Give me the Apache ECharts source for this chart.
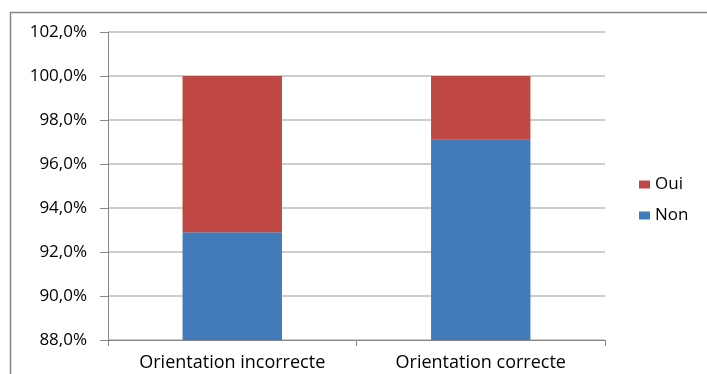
<!DOCTYPE html>
<html><head><meta charset="utf-8">
<script src="https://cdn.jsdelivr.net/npm/echarts@6/dist/echarts.min.js"></script>
<style>html,body{margin:0;padding:0;background:#fff}#c{width:707px;height:374px}</style>
</head><body><div id="c"></div>
<script>
const categories = ['Orientation incorrecte', 'Orientation correcte'];
const nonValues = [92.9, 97.1];
const ouiValues = [7.1, 2.9];
const yMin = 88, yMax = 102, yStep = 2;

const chart = echarts.init(document.getElementById('c'));
const font = 'Open Sans';
chart.setOption({
  animation: false,
  backgroundColor: '#fff',
  graphic: [{
    type: 'rect', shape: {x: 10.5, y: 12.5, width: 720, height: 400},
    style: {fill: 'none', stroke: '#868686', lineWidth: 1.5}, silent: true
  }],
  grid: {left: 108, right: 102, top: 32, bottom: 34},
  legend: {
    data: ['Oui', 'Non'], orient: 'vertical', left: 634, top: 171,
    itemWidth: 11, itemHeight: 8, itemGap: 14, icon: 'rect',
    textStyle: {fontFamily: font, fontSize: 17, lineHeight: 17, color: '#000'}
  },
  xAxis: {
    type: 'category', data: categories,
    axisLine: {lineStyle: {color: '#868686', width: 1}},
    axisTick: {show: true, length: 6, lineStyle: {color: '#868686'}},
    axisLabel: {fontFamily: font, fontSize: 18, color: '#000', margin: 14}
  },
  yAxis: {
    type: 'value', min: yMin, max: yMax, interval: yStep,
    axisLine: {show: true, lineStyle: {color: '#868686'}},
    axisTick: {show: true, length: 8, lineStyle: {color: '#868686'}},
    splitLine: {lineStyle: {color: '#bcbcbc', width: 1.5}},
    axisLabel: {fontFamily: font, fontSize: 17, color: '#000', margin: 21,
      formatter: v => v.toFixed(1).replace('.', ',') + '%'}
  },
  series: [
    {name: 'Non', type: 'bar', stack: 's', data: nonValues, barWidth: '40%',
     itemStyle: {color: '#417BBA'}},
    {name: 'Oui', type: 'bar', stack: 's', data: ouiValues, barWidth: '40%',
     itemStyle: {color: '#BF4744'}}
  ]
});
</script></body></html>
